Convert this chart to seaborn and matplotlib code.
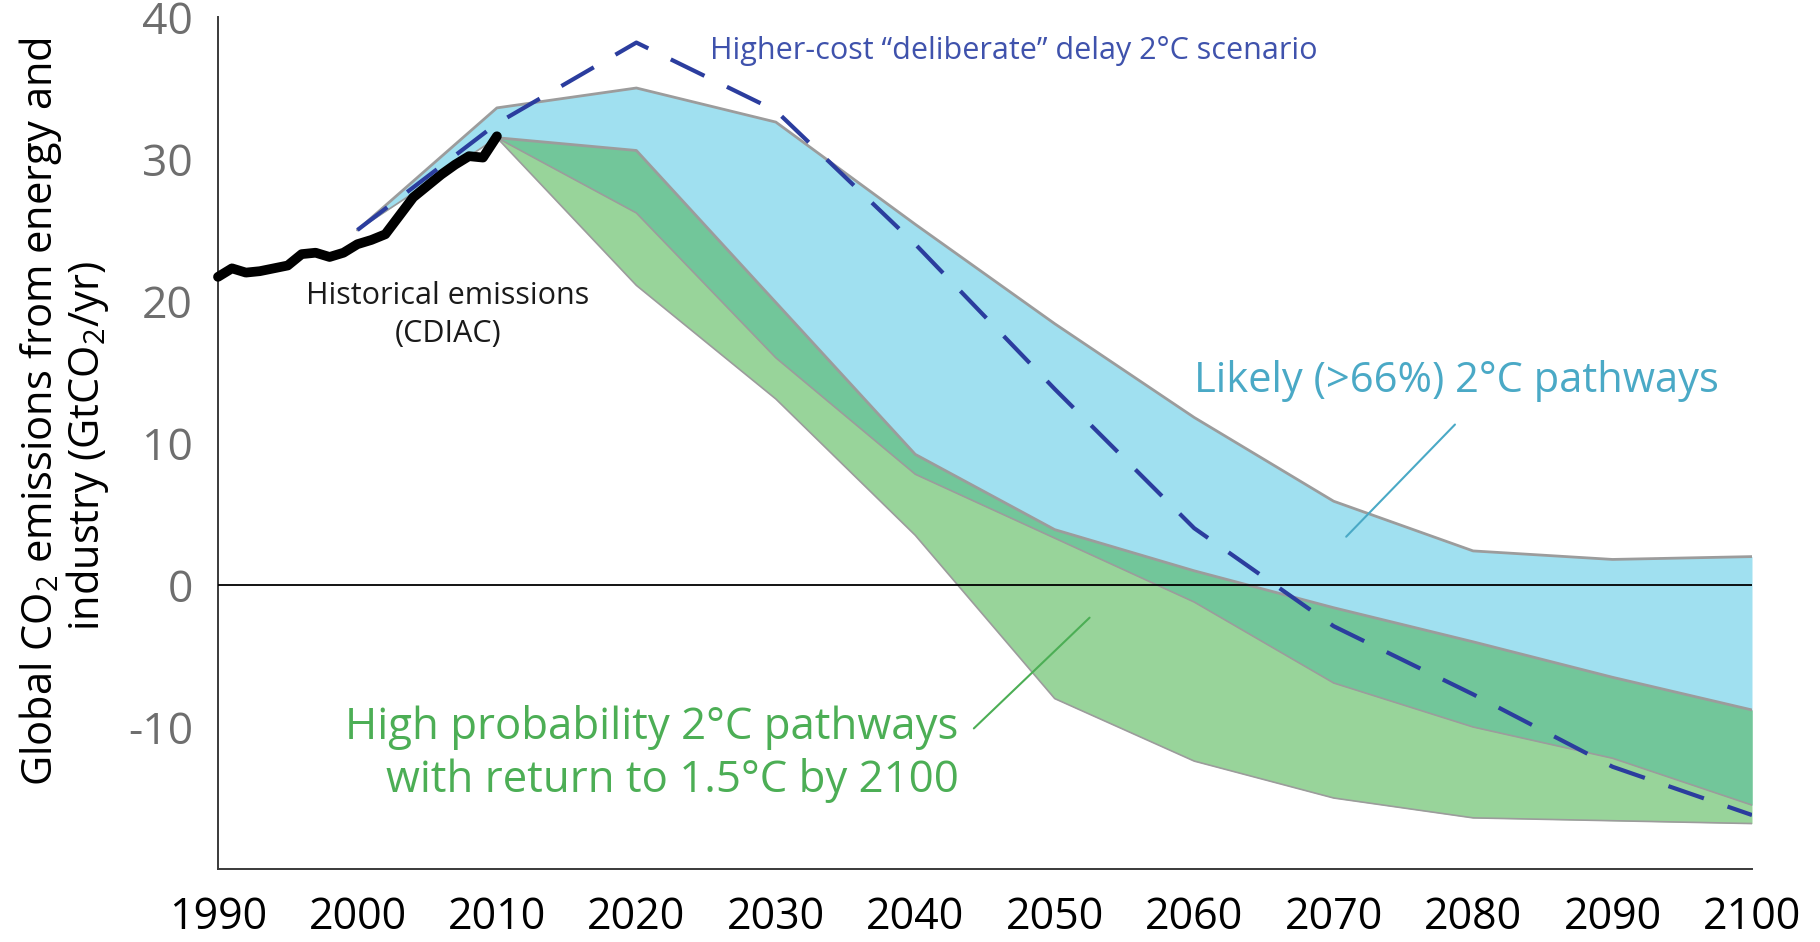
import numpy as np
import pandas as pd
import matplotlib
matplotlib.use("Agg")
import matplotlib.pyplot as plt
import seaborn as sns

# ---------------- data ----------------
hist_years = list(range(1990, 2011))
hist_values = [21.7, 22.3, 22.0, 22.1, 22.3, 22.5, 23.3, 23.4, 23.1, 23.4, 24.0,
               24.3, 24.7, 26.0, 27.3, 28.1, 28.9, 29.6, 30.2, 30.1, 31.6]

likely_years = [2000, 2010, 2020, 2030, 2040, 2050, 2060, 2070, 2080, 2090, 2100]
likely_upper = [25.0, 33.6, 35.0, 32.6, 25.4, 18.4, 11.8, 5.9, 2.4, 1.8, 2.0]
likely_lower = [25.0, 31.5, 26.2, 16.0, 7.8, 3.3, -1.2, -6.9, -10.0, -12.2, -15.5]

highprob_years = [2010, 2020, 2030, 2040, 2050, 2060, 2070, 2080, 2090, 2100]
highprob_upper = [31.5, 30.6, 19.9, 9.2, 3.9, 1.0, -1.6, -4.0, -6.5, -8.8]
highprob_lower = [31.5, 21.1, 13.1, 3.5, -8.0, -12.4, -15.0, -16.4, -16.6, -16.8]

delay_years = [2000, 2010, 2020, 2030, 2040, 2050, 2060, 2070, 2080, 2090, 2100]
delay_values = [25.0, 32.5, 38.2, 33.4, 24.0, 13.8, 4.0, -2.9, -7.7, -12.8, -16.2]

x_ticks = [1990, 2000, 2010, 2020, 2030, 2040, 2050, 2060, 2070, 2080, 2090, 2100]
x_tick_labels = [str(v) for v in x_ticks]
y_ticks = [-20, -10, 0, 10, 20, 30, 40]
y_tick_labels = ["", "-10", "0", "10", "20", "30", "40"]

# ---------------- style ----------------
sns.set_theme(style="white")
plt.rcParams["font.family"] = ["Open Sans", "DejaVu Sans"]
plt.rcParams["mathtext.fontset"] = "custom"
plt.rcParams["mathtext.rm"] = "Open Sans"
plt.rcParams["mathtext.it"] = "Open Sans:italic"
plt.rcParams["mathtext.bf"] = "Open Sans:bold"

C_BLUE = "#a0e0f0"
C_LGREEN = "#98d49a"
C_DGREEN = "#72c69a"
C_EDGE = "#9c9c9c"
C_DASH = "#2b3d9e"
C_TXT_BLUE = "#3f52ac"
C_TXT_TEAL = "#4aa9c6"
C_TXT_GREEN = "#4cae55"
C_AXIS = "#3a3a3a"

fig = plt.figure(figsize=(18.2, 9.42), dpi=100)
ax = fig.add_axes([218 / 1820, 1 - 869 / 942, (1752 - 218) / 1820, (869 - 17) / 942])

# ---------------- bands ----------------
ly = np.array(likely_years, dtype=float)
hy = np.array(highprob_years, dtype=float)
lu = np.array(likely_upper)
ll = np.array(likely_lower)
hu = np.array(highprob_upper)
hl = np.array(highprob_lower)

ax.fill_between(ly, ll, lu, color=C_BLUE, lw=0, zorder=1)
ax.fill_between(hy, hl, hu, color=C_LGREEN, lw=0, zorder=1.1)
lu_h = np.interp(hy, ly, lu)
ll_h = np.interp(hy, ly, ll)
ov_top = np.minimum(hu, lu_h)
ov_bot = np.maximum(hl, ll_h)
ax.fill_between(hy, ov_bot, ov_top, where=ov_top >= ov_bot, color=C_DGREEN,
                lw=0, zorder=1.2, interpolate=True)

edges = pd.DataFrame({
    "year": list(ly) + list(hy) + list(ly) + list(hy),
    "value": list(lu) + list(hu) + list(ll) + list(hl),
    "edge": ["lu"] * len(ly) + ["hu"] * len(hy) + ["ll"] * len(ly) + ["hl"] * len(hy),
})
for name, lw in [("lu", 2.0), ("hu", 2.0), ("ll", 1.2), ("hl", 1.2)]:
    sns.lineplot(data=edges[edges.edge == name], x="year", y="value", ax=ax,
                 color=C_EDGE, lw=lw, zorder=2, estimator=None, sort=False)

ax.axhline(0, color="black", lw=1.3, zorder=3)

# ---------------- lines ----------------
hist_df = pd.DataFrame({"year": hist_years, "value": hist_values})
sns.lineplot(data=hist_df, x="year", y="value", ax=ax, color="black", lw=7,
             zorder=4, solid_capstyle="round", solid_joinstyle="round",
             clip_on=False, estimator=None)

delay_df = pd.DataFrame({"year": delay_years, "value": delay_values})
sns.lineplot(data=delay_df, x="year", y="value", ax=ax, color=C_DASH, lw=3,
             linestyle=(0, (9, 6)), zorder=5, estimator=None)

# ---------------- axes ----------------
ax.set_xlim(1990, 2100)
ax.set_ylim(-20, 40)
ax.set_xticks(x_ticks)
ax.set_xticklabels(x_tick_labels)
ax.set_yticks(y_ticks)
ax.set_yticklabels(y_tick_labels)
ax.set_xlabel("")
ax.set_ylabel("")
for s in ["top", "right"]:
    ax.spines[s].set_visible(False)
for s in ["left", "bottom"]:
    ax.spines[s].set_color(C_AXIS)
    ax.spines[s].set_linewidth(1.4)
ax.tick_params(axis="x", direction="in", length=15, width=1.4, color=C_AXIS,
               pad=19, labelsize=31, labelcolor="black")
ax.tick_params(axis="y", direction="in", length=27, width=1.4, color=C_AXIS,
               pad=18, labelsize=32, labelcolor="#6e6e6e")

# ---------------- texts ----------------
fig.text(41 / 1820, 1 - 412 / 942,
         "Global CO$_\\mathregular{2}$ emissions from energy and",
         rotation=90, ha="center", va="center", fontsize=30, color="black")
fig.text(88 / 1820, 1 - 446 / 942,
         "industry (GtCO$_\\mathregular{2}$/yr)",
         rotation=90, ha="center", va="center", fontsize=30, color="black")

ax.text(2006.5, 19.0, "Historical emissions\n(CDIAC)", ha="center", va="center",
        fontsize=22, color="#1a1a1a", linespacing=1.35, zorder=6)
ax.text(2025.3, 37.6, "Higher-cost \u201cdeliberate\u201d delay 2\u00b0C scenario",
        ha="left", va="center", fontsize=22, color=C_TXT_BLUE, zorder=6)
ax.text(2078.8, 14.4, "Likely (>66%) 2\u00b0C pathways", ha="center", va="center",
        fontsize=30, color=C_TXT_TEAL, zorder=6)
ax.text(2043.1, -11.9, "High probability 2\u00b0C pathways\nwith return to 1.5\u00b0C by 2100",
        ha="right", va="center", multialignment="right", fontsize=31.5,
        color=C_TXT_GREEN, linespacing=1.22, zorder=6)

ax.plot([2078.7, 2070.9], [11.3, 3.4], color=C_TXT_TEAL, lw=1.5, zorder=6)
ax.plot([2044.2, 2052.5], [-10.1, -2.3], color=C_TXT_GREEN, lw=1.5, zorder=6)

fig.savefig("out.png", dpi=100)
